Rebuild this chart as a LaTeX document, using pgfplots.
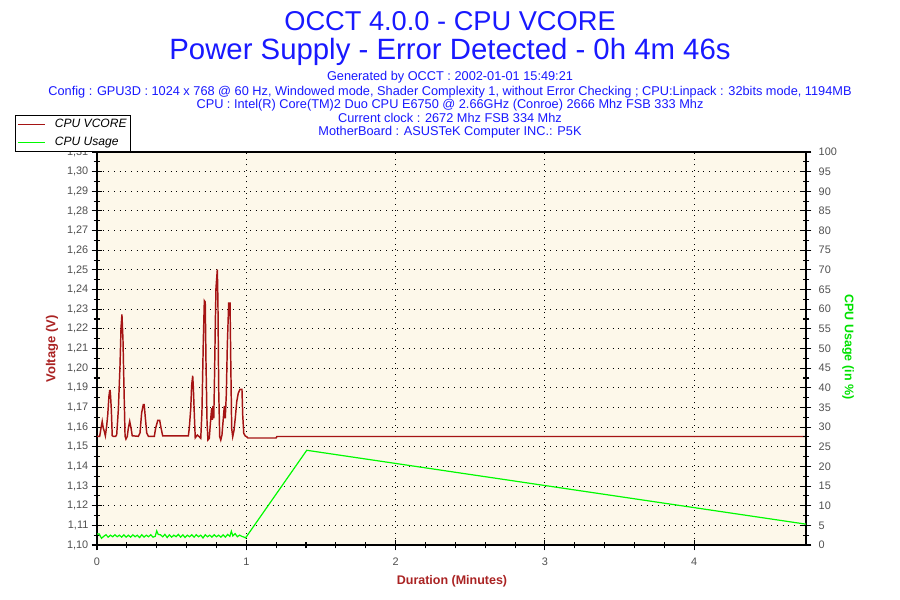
\documentclass[border=0pt]{standalone}
\usepackage{fontspec}
\setmainfont{Liberation Sans}
\usepackage{pgfplots}
\pgfplotsset{compat=1.18}
\definecolor{titleblue}{RGB}{25,25,255}
\definecolor{bgcream}{RGB}{253,248,234}
\definecolor{vcorered}{RGB}{165,20,20}
\definecolor{labelred}{RGB}{170,35,35}
\definecolor{usagegreen}{RGB}{0,250,0}
\definecolor{labelgreen}{RGB}{0,225,0}
\definecolor{tlgray}{RGB}{80,80,80}
\begin{document}
\begin{tikzpicture}
\useasboundingbox[fill=white] (0bp,0bp) rectangle (675bp,450bp);
\coordinate (ll) at (72.75bp,41.25bp);
% titles
\node[anchor=base,text=titleblue,font=\fontsize{20.5}{24}\selectfont,inner sep=0pt] at (337.5bp,426.75bp) {OCCT 4.0.0 - CPU VCORE};
\node[anchor=base,text=titleblue,font=\fontsize{22.1}{24}\selectfont,inner sep=0pt] at (337.5bp,405bp) {Power Supply - Error Detected - 0h 4m 46s};
\begin{scope}[every node/.style={anchor=base,text=titleblue,font=\fontsize{9.6}{10}\selectfont,inner sep=0pt}]
\node at (337.5bp,389.6bp) {Generated by OCCT : 2002-01-01 15:49:21};
\node at (337.5bp,378.4bp) {Config : GPU3D : 1024 x 768 @ 60 Hz, Windowed mode, Shader Complexity 1, without Error Checking ; CPU:Linpack : 32bits mode, 1194MB};
\node at (337.5bp,368.25bp) {CPU : Intel(R) Core(TM)2 Duo CPU E6750 @ 2.66GHz (Conroe) 2666 Mhz FSB 333 Mhz};
\node at (337.5bp,357.75bp) {Current clock : 2672 Mhz FSB 334 Mhz};
\node at (337.5bp,348bp) {MotherBoard : ASUSTeK Computer INC.: P5K};
\end{scope}
% axis labels
\node[rotate=90,text=labelred,font=\bfseries\fontsize{9.8}{11}\selectfont] at (39bp,188.25bp) {Voltage (V)};
\node[text=labelred,font=\bfseries\fontsize{9.4}{11}\selectfont] at (339bp,14.25bp) {Duration (Minutes)};
\node[rotate=-90,text=labelgreen,font=\bfseries\fontsize{9.4}{11}\selectfont] at (636bp,189.75bp) {CPU Usage (in \%)};
\pgfplotsset{
  occtbase/.style={
    at={(ll)}, anchor=south west, scale only axis,
    width=531.75bp, height=294.75bp,
    xmin=0, xmax=4.749,
    tick align=center,
    major tick length=8bp, minor tick length=5bp,
    tick style={black, line width=0.8bp},
    axis line style={black, line width=1bp},
    ticklabel style={font=\fontsize{8.2}{9}\selectfont, text=tlgray},
    /pgf/number format/assume math mode=true,
  }
}
\begin{axis}[occtbase,
  ymin=1.1, ymax=1.313,
  xtick={0,1,2,3,4}, minor x tick num=4,
  ytick={1.1,1.11065,1.1213,1.13195,1.1426,1.15325,1.1639,1.17455,1.1852,1.19585,1.2065,1.21715,1.2278,1.23845,1.2491,1.25975,1.2704,1.28105,1.2917,1.30235,1.313},
  yticklabels={1{,}10,1{,}11,1{,}12,1{,}13,1{,}14,1{,}15,1{,}16,1{,}17,1{,}19,1{,}20,1{,}21,1{,}22,1{,}23,1{,}24,1{,}25,1{,}26,1{,}27,1{,}28,1{,}29,1{,}30,1{,}31},
  minor y tick num=1,
  xtick pos=bottom, ytick pos=left,
  grid=major,
  major grid style={black, line width=0.75bp, dash pattern=on 0.75bp off 3.5bp},
  axis background/.style={fill=bgcream},
  xticklabel style={yshift=-2bp},
  yticklabel style={xshift=1bp},
]
\addplot[vcorered, line width=1.1bp, line join=miter] coordinates {
(0,1.1589) (0.018,1.1589) (0.027,1.1634) (0.035,1.1670) (0.042,1.1634) (0.049,1.1616) (0.056,1.1592)
(0.065,1.1647) (0.072,1.1706) (0.080,1.1806) (0.085,1.1837) (0.088,1.1837) (0.091,1.1806) (0.096,1.1734)
(0.102,1.1592) (0.109,1.1589) (0.125,1.1589) (0.132,1.1598) (0.143,1.1734) (0.154,1.1969) (0.161,1.2178)
(0.167,1.2250) (0.174,1.2114) (0.181,1.1842) (0.188,1.1589) (0.194,1.1574) (0.203,1.1589) (0.210,1.1634)
(0.219,1.1670) (0.228,1.1634) (0.236,1.1592) (0.277,1.1589) (0.288,1.1607) (0.299,1.1716) (0.310,1.1761)
(0.316,1.1761) (0.322,1.1706) (0.333,1.1607) (0.344,1.1589) (0.384,1.1589) (0.393,1.1634) (0.407,1.1675)
(0.420,1.1675) (0.429,1.1634) (0.440,1.1592) (0.612,1.1592) (0.618,1.1632) (0.628,1.1741) (0.634,1.1864)
(0.641,1.1917) (0.645,1.1859) (0.652,1.1705) (0.658,1.1581) (0.672,1.1596) (0.685,1.1587) (0.695,1.1578)
(0.703,1.1723) (0.712,1.2103) (0.719,1.2324) (0.725,1.2317) (0.730,1.1994) (0.737,1.1668) (0.743,1.1569)
(0.752,1.1578) (0.762,1.1686) (0.768,1.1741) (0.772,1.1678) (0.777,1.1754) (0.782,1.1686) (0.786,1.1849)
(0.792,1.2175) (0.797,1.2393) (0.806,1.2493) (0.810,1.2320) (0.815,1.1849) (0.822,1.1587) (0.829,1.1569)
(0.837,1.1596) (0.846,1.1686) (0.853,1.1754) (0.859,1.1686) (0.866,1.1813) (0.873,1.2085) (0.882,1.2311)
(0.891,1.2311) (0.896,1.1994) (0.902,1.1632) (0.909,1.1587) (0.918,1.1623) (0.926,1.1686) (0.936,1.1777)
(0.946,1.1822) (0.958,1.1844) (0.971,1.1844) (0.976,1.1705) (0.983,1.1605) (0.993,1.1591) (1.003,1.1587)
(1.010,1.1580) (1.200,1.1580) (1.205,1.1588) (4.749,1.1588)
};
\end{axis}
\begin{axis}[occtbase,
  ymin=0, ymax=100,
  axis x line=none, axis y line*=right,
  ytick={0,5,...,100}, minor y tick num=1,
  yticklabel style={anchor=west, xshift=2bp},
  legend style={at={(rel axis cs:-0.1157,1.0941)}, anchor=north west, draw=black, line width=0.6bp, fill=white,
    font=\itshape\fontsize{9.1}{10}\selectfont, inner xsep=1.5bp, inner ysep=1.5bp, row sep=2.5bp,
    nodes={inner xsep=1.2bp, inner ysep=1.5bp}},
  legend cell align=left,
  legend image code/.code={\draw[#1] (0bp,0bp) -- (20bp,0bp); \path (26bp,0bp);},
]
\addlegendimage{vcorered, line width=0.8bp}
\addlegendentry{CPU VCORE}
\addplot[usagegreen, line width=0.9bp] coordinates {
(0,2.8) (0.015,2.8) (0.03,1.7) (0.045,2.2) (0.06,2.6) (0.075,2.0) (0.09,2.5) (0.105,2.1) (0.12,2.6)
(0.135,2.1) (0.15,2.5) (0.165,2.0) (0.18,2.6) (0.195,2.0) (0.21,2.5) (0.225,2.0) (0.24,2.6) (0.255,2.1)
(0.27,2.5) (0.285,1.9) (0.30,2.6) (0.315,2.0) (0.33,2.5) (0.345,2.1) (0.36,2.6) (0.375,2.0) (0.39,2.2)
(0.40,3.6) (0.41,2.7) (0.425,2.6) (0.44,2.1) (0.455,2.7) (0.47,1.9) (0.485,2.6) (0.50,2.0) (0.515,2.5)
(0.53,2.1) (0.545,2.7) (0.56,2.0) (0.575,2.6) (0.59,1.9) (0.605,2.5) (0.62,2.1) (0.635,2.6) (0.65,2.0)
(0.665,2.6) (0.68,2.1) (0.695,2.5) (0.71,1.8) (0.725,2.6) (0.74,2.1) (0.755,2.5) (0.77,2.0) (0.785,2.6)
(0.80,2.1) (0.815,2.5) (0.83,2.0) (0.845,2.6) (0.86,2.0) (0.875,2.7) (0.89,2.2) (0.90,3.5) (0.91,2.3)
(0.925,2.9) (0.94,2.1) (0.955,2.5) (0.97,2.2) (0.985,2.0) (0.995,1.8) (1.405,24.1) (4.749,5.3)
};
\addlegendentry{CPU Usage}
\end{axis}
\end{tikzpicture}
\end{document}
